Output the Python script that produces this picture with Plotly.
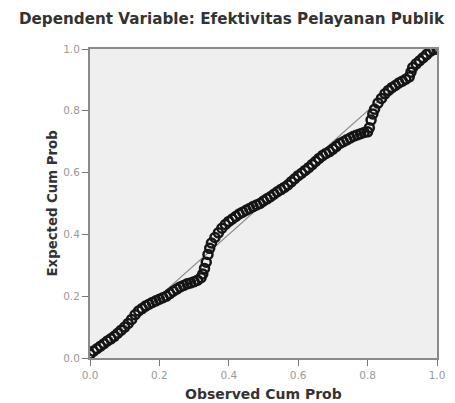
import plotly.graph_objects as go

observed = [0.000,0.010,0.020,0.030,0.040,0.050,0.060,0.070,0.080,0.090,0.100,0.110,0.120,0.130,0.140,0.150,0.160,0.170,0.180,0.190,0.200,0.210,0.220,0.230,0.240,0.250,0.260,0.270,0.280,0.290,0.300,0.310,0.320,0.325,0.330,0.335,0.340,0.345,0.350,0.360,0.370,0.380,0.390,0.400,0.410,0.420,0.430,0.440,0.450,0.460,0.470,0.480,0.490,0.500,0.510,0.520,0.530,0.540,0.550,0.560,0.570,0.580,0.590,0.600,0.610,0.620,0.630,0.640,0.650,0.660,0.670,0.680,0.690,0.700,0.710,0.720,0.730,0.740,0.750,0.760,0.770,0.780,0.790,0.800,0.805,0.810,0.815,0.820,0.830,0.840,0.850,0.860,0.870,0.880,0.890,0.900,0.910,0.920,0.925,0.930,0.940,0.950,0.960,0.970,0.980,0.990,1.000]
expected = [0.012,0.022,0.030,0.038,0.046,0.055,0.062,0.070,0.080,0.090,0.100,0.112,0.125,0.140,0.152,0.160,0.168,0.174,0.180,0.185,0.190,0.195,0.200,0.208,0.216,0.223,0.230,0.235,0.240,0.243,0.247,0.252,0.260,0.272,0.290,0.310,0.335,0.355,0.372,0.390,0.405,0.420,0.432,0.442,0.450,0.458,0.466,0.472,0.478,0.484,0.490,0.495,0.500,0.508,0.515,0.522,0.530,0.538,0.545,0.552,0.560,0.570,0.580,0.590,0.598,0.607,0.616,0.626,0.636,0.646,0.655,0.662,0.668,0.676,0.685,0.694,0.700,0.706,0.712,0.718,0.722,0.726,0.730,0.732,0.745,0.770,0.790,0.805,0.825,0.840,0.855,0.866,0.875,0.882,0.890,0.896,0.902,0.910,0.925,0.940,0.952,0.962,0.972,0.982,0.992,0.998,1.000]

ref_x = [0.0, 1.0]
ref_y = [0.0, 1.0]
tick_vals = [0.0, 0.2, 0.4, 0.6, 0.8, 1.0]
tick_text = ["0.0", "0.2", "0.4", "0.6", "0.8", "1.0"]

FONT = "DejaVu Sans"

fig = go.Figure()
fig.add_trace(go.Scatter(x=ref_x, y=ref_y, mode="lines",
                         line=dict(color="#8a8a8a", width=1.2), hoverinfo="skip"))
fig.add_trace(go.Scatter(x=observed, y=expected, mode="markers",
                         marker=dict(symbol="circle-open", size=9, color="#151515",
                                     line=dict(width=2.5, color="#151515"))))

axis_common = dict(range=[0, 1], tickvals=tick_vals, ticktext=tick_text,
                   showgrid=False, zeroline=False, ticks="outside", ticklen=6,
                   tickcolor="#777777", showline=True, linecolor="#8a8a8a", linewidth=2,
                   mirror=True, automargin=False,
                   tickfont=dict(family=FONT, size=10.5, color="#999999"))

# figure is offset by the page's 8px body margin
W, H = 447, 395
fig.update_layout(
    width=W, height=H,
    margin=dict(l=82, r=18, t=41, b=45),
    paper_bgcolor="white", plot_bgcolor="#efefef",
    showlegend=False,
    title=dict(text="<b>Dependent Variable: Efektivitas Pelayanan Publik</b>",
               x=0.5, xanchor="center", xref="container", y=1 - 11/H, yanchor="middle",
               font=dict(family=FONT, size=15.2, color="#333333")),
    xaxis=dict(axis_common),
    yaxis=dict(axis_common),
    annotations=[
        dict(text="<b>Observed Cum Prob</b>", xref="paper", yref="paper",
             x=0.5, y=0, xanchor="center", yanchor="middle", yshift=-36, showarrow=False,
             font=dict(family=FONT, size=14, color="#333333")),
        dict(text="<b>Expected Cum Prob</b>", xref="paper", yref="paper",
             x=0, y=0.5, xanchor="center", yanchor="middle", xshift=-38, textangle=-90,
             showarrow=False, font=dict(family=FONT, size=13.3, color="#333333")),
    ],
)

fig.write_html("out.html")
